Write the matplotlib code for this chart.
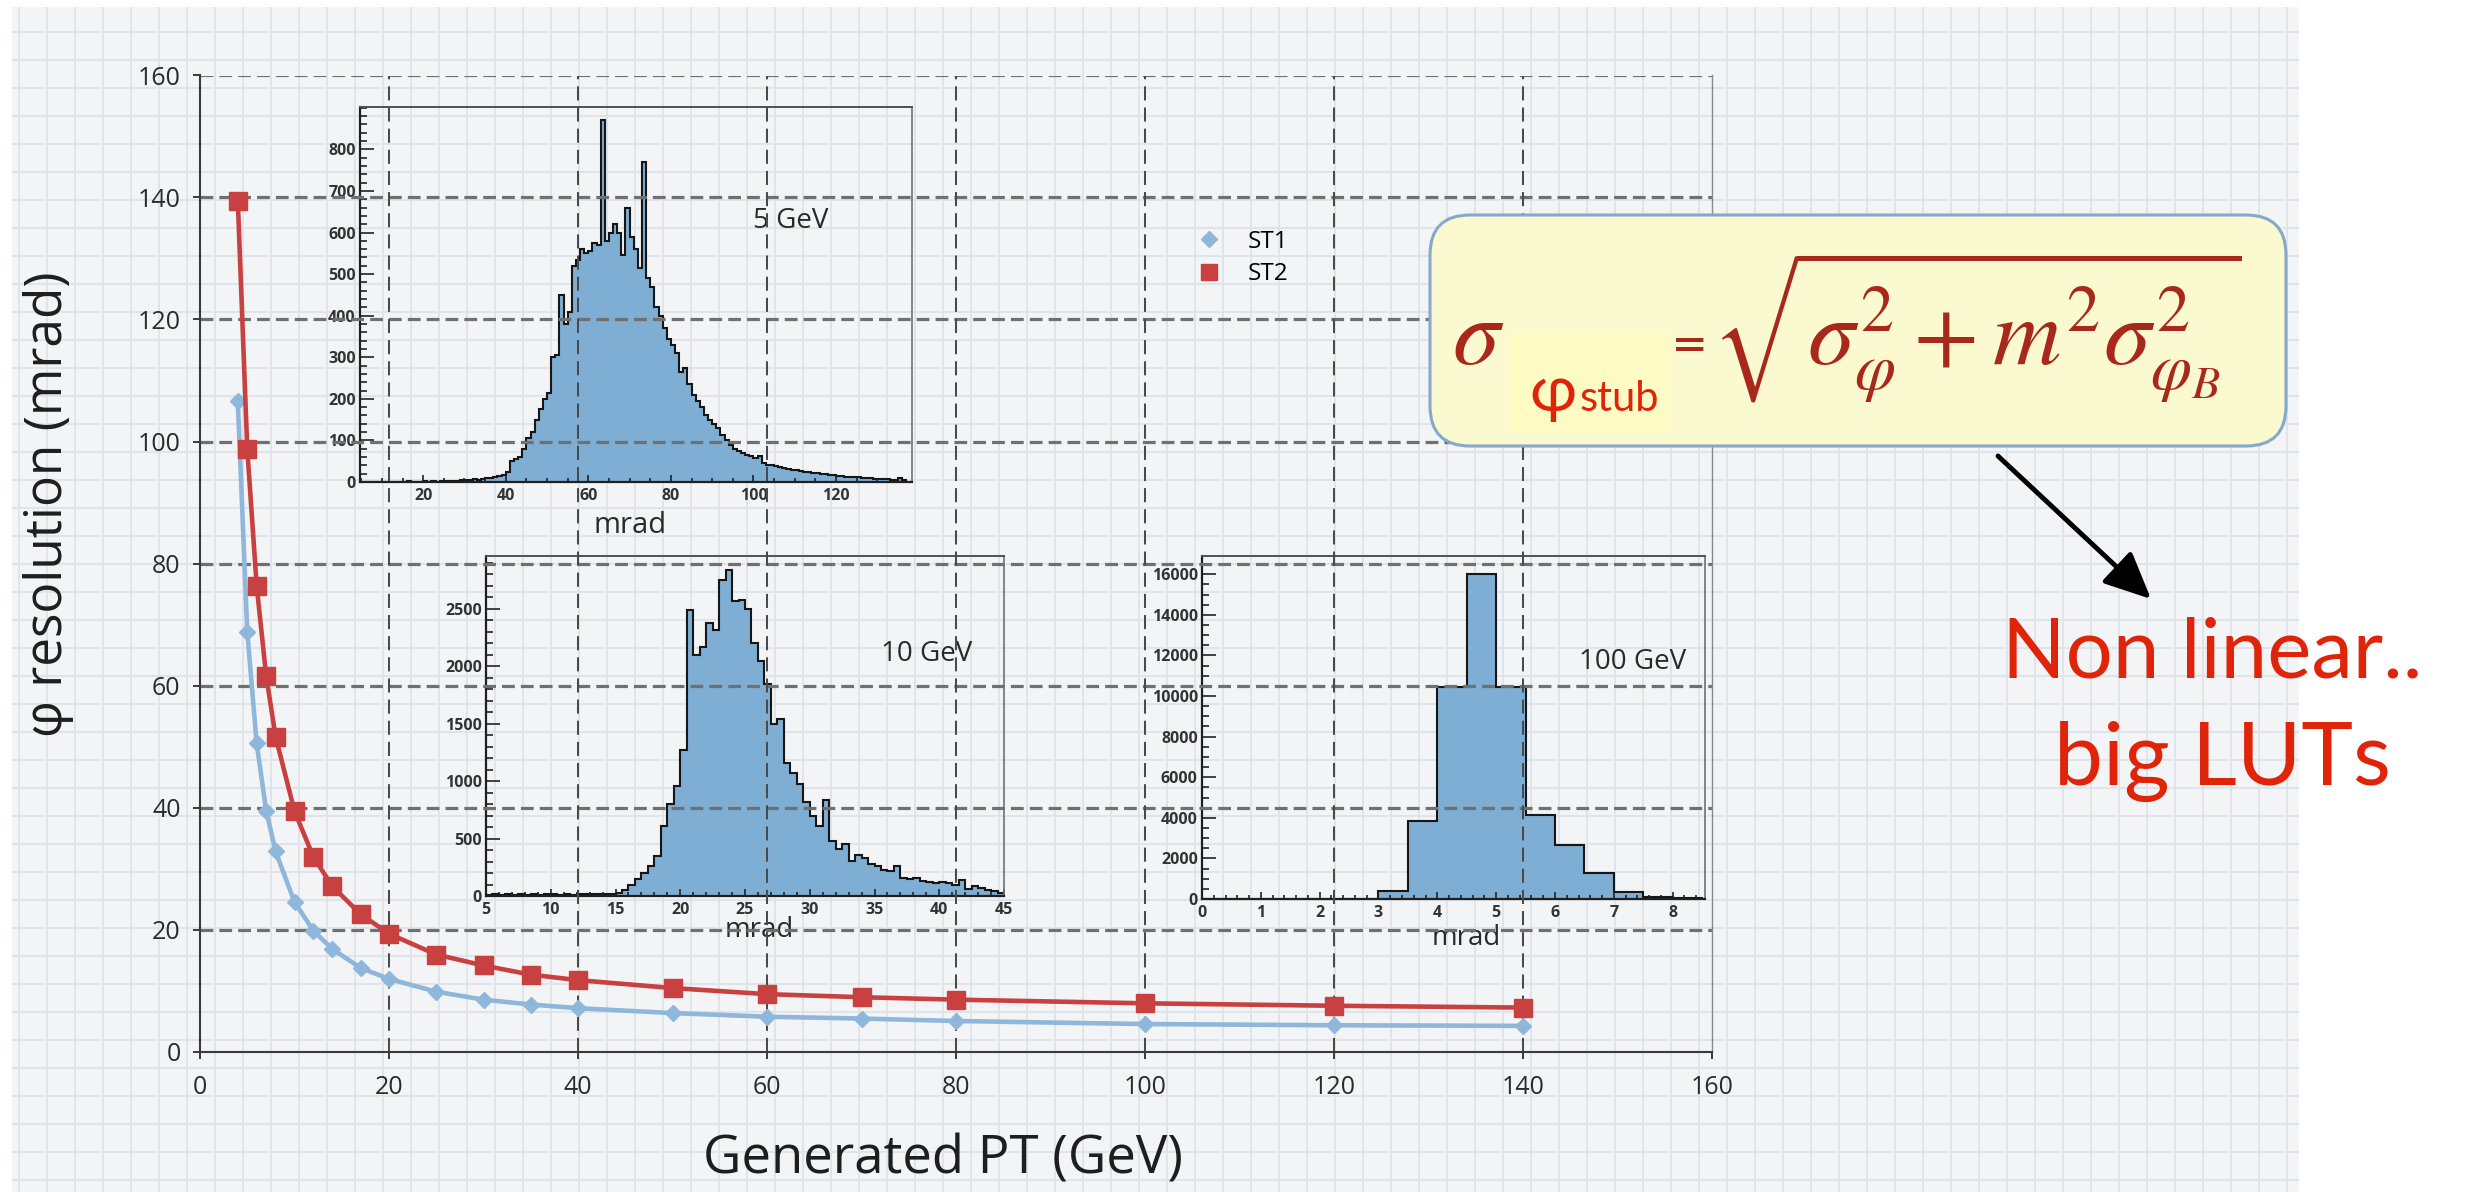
import numpy as np
import matplotlib
matplotlib.use("Agg")
import matplotlib.pyplot as plt
from matplotlib.patches import FancyBboxPatch, Rectangle
from matplotlib.lines import Line2D
from matplotlib.ticker import MultipleLocator

W, H = 2468, 1192
plt.rcParams['font.family'] = ['Open Sans', 'DejaVu Sans']
plt.rcParams['mathtext.fontset'] = 'stix'

# resolution vs generated PT
pt_gev = [4, 5, 6, 7, 8, 10, 12, 14, 17, 20, 25, 30, 35, 40, 50, 60, 70, 80, 100, 120, 140]
st1_res = [106.6, 68.8, 50.5, 39.5, 32.8, 24.5, 19.8, 16.8, 13.7, 11.9, 9.8, 8.5, 7.7, 7.1,
           6.3, 5.7, 5.4, 5.0, 4.5, 4.3, 4.2]
st2_res = [139.5, 98.8, 76.3, 61.6, 51.6, 39.4, 31.9, 27.1, 22.5, 19.3, 15.9, 14.1, 12.6, 11.7,
           10.4, 9.4, 8.9, 8.5, 7.9, 7.5, 7.2]
series_names = ['ST1', 'ST2']
main_ticks = [0, 20, 40, 60, 80, 100, 120, 140, 160]

# 5 GeV inset: 1 mrad bins starting at 5 mrad
h5_start, h5_width = 5, 1.0
h5_counts = [0, 0, 1, 0, 0, 1, 0, 0, 1, 0, 0, 2, 1, 0, 1,
             2, 1, 2, 1, 2, 2, 3, 2, 3, 4,
             5, 6, 7, 6, 8, 9, 10, 12, 14, 18,
             25, 50, 55, 60, 80, 105, 120, 150, 175, 200,
             215, 300, 305, 450, 380, 410, 520, 535, 560, 550,
             555, 575, 570, 870, 580, 600, 620, 600, 545, 660,
             590, 560, 515, 770, 490, 470, 420, 400, 370, 345,
             330, 310, 265, 275, 235, 210, 195, 180, 160, 150,
             140, 130, 112, 100, 88, 80, 75, 70, 66, 62,
             58, 62, 46, 42, 40, 38, 36, 34, 32, 30,
             28, 27, 25, 24, 22, 21, 20, 19, 18, 16,
             15, 14, 13, 12, 12, 11, 10, 10, 9, 8,
             8, 7, 7, 6, 6, 10, 6]

# 10 GeV inset: 0.5 mrad bins starting at 5 mrad
h10_start, h10_width = 5, 0.5
h10_counts = [12, 15, 10, 14, 12, 16, 13, 15, 11, 14, 16, 12, 15, 13, 17, 14, 16, 18, 15, 20,
              25, 50, 100, 150, 200, 260, 350, 610, 800, 960,
              1270, 2490, 2100, 2170, 2380, 2320, 2750, 2840, 2570, 2580,
              2500, 2200, 2050, 1850, 1500, 1545, 1160, 1075, 975, 820,
              700, 610, 840, 475, 405, 455, 305, 360, 330, 280,
              260, 230, 220, 260, 160, 145, 160, 130, 120, 115,
              120, 110, 100, 140, 60, 85, 70, 55, 40, 30]

# 100 GeV inset: 0.5 mrad bins starting at 0
h100_start, h100_width = 0, 0.5
h100_counts = [0, 0, 0, 0, 0, 0, 380, 3850, 10470, 16030, 10470, 4150, 2670, 1300, 360, 100, 50]

RED = '#c8403f'
BLUE = '#8fb6db'
FILL = '#7eaed3'
FORMULA = '#a9281c'
BRIGHT = '#e0240a'


def frac(l, t, r, b):
    return [l / W, 1 - b / H, (r - l) / W, (b - t) / H]


fig = plt.figure(figsize=(W / 100, H / 100), dpi=100)
fig.patch.set_facecolor('white')

# graph paper backdrop of the slide
bg = fig.add_axes([0, 0, 1, 1])
bg.set_xlim(0, W)
bg.set_ylim(H, 0)
bg.axis('off')
bg.set_zorder(0)
bg.add_patch(Rectangle((12, 7), 2287, H - 7, facecolor='#f3f4f5', edgecolor='none'))
bg.vlines(np.arange(19, 2299, 28), 7, H, color='#dce3e9', lw=1.3)
bg.hlines(np.arange(32, H, 28), 12, 2299, color='#dce3e9', lw=1.3)


def hist_inset(rect, counts, start, width, xlim, ylim, xticks, yticks, xminor, yminor,
               tag, tag_xy, mrad_xy, mrad_size):
    iax = fig.add_axes(frac(*rect))
    iax.set_zorder(1)
    iax.patch.set_alpha(0)
    edges = start + width * np.arange(len(counts) + 1)
    iax.stairs(counts, edges, fill=True, color=FILL, lw=0)
    iax.stairs(counts, edges, color='#161616', lw=1.5)
    iax.set_xlim(*xlim)
    iax.set_ylim(*ylim)
    iax.set_xticks(xticks)
    iax.set_yticks(yticks)
    iax.xaxis.set_minor_locator(MultipleLocator(xminor))
    iax.yaxis.set_minor_locator(MultipleLocator(yminor))
    iax.tick_params(which='both', direction='in', color='#222222', width=1.2,
                    labelsize=11.5, labelcolor='#333333')
    iax.tick_params(axis='y', which='major', length=10, pad=3)
    iax.tick_params(axis='y', which='minor', length=5)
    iax.tick_params(axis='x', which='major', length=5, pad=4)
    iax.tick_params(axis='x', which='minor', length=3)
    plt.setp(iax.get_xticklabels() + iax.get_yticklabels(), fontweight='bold')
    for side in ['left', 'bottom']:
        iax.spines[side].set_color('#202020')
        iax.spines[side].set_linewidth(1.6)
    iax.spines['top'].set_color('#505050')
    iax.spines['top'].set_linewidth(1.4)
    iax.spines['right'].set_color('#707070')
    iax.spines['right'].set_linewidth(1.2)
    iax.text(tag_xy[0], tag_xy[1], tag, fontsize=20, ha='center', va='center', color='#2a2a2a')
    iax.text(mrad_xy[0], mrad_xy[1], 'mrad', fontsize=mrad_size, ha='center', va='center',
             color='#2a2a2a', transform=iax.transAxes)
    return iax


hist_inset((360, 107, 912, 482), h5_counts, h5_start, h5_width, (4.7, 138.4), (0, 902),
           [20, 40, 60, 80, 100, 120], list(range(0, 801, 100)), 5, 20,
           '5 GeV', (109, 627), (0.489, -0.117), 21)
hist_inset((486, 556, 1004, 896), h10_counts, h10_start, h10_width, (5, 45), (0, 2960),
           list(range(5, 46, 5)), list(range(0, 2501, 500)), 1, 100,
           '10 GeV', (39, 2110), (0.528, -0.10), 20)
hist_inset((1202, 556, 1705, 899), h100_counts, h100_start, h100_width, (0, 8.55), (0, 16900),
           list(range(0, 9)), list(range(0, 16001, 2000)), 0.2, 500,
           '100 GeV', (7.32, 11700), (0.526, -0.114), 20)

# main chart, drawn above the insets so its dashed grid crosses them
ax = fig.add_axes(frac(200, 75.5, 1712, 1051.5))
ax.set_zorder(2)
ax.patch.set_alpha(0)
ax.set_xlim(0, 160)
ax.set_ylim(0, 160)
for v in main_ticks[1:]:
    ax.axhline(v, color='#707070', lw=2.3, dashes=(4, 1.9), zorder=1)
for v in main_ticks[1:-1]:
    ax.axvline(v, color='#4a4a4a', lw=1.45, dashes=(7, 3.5), zorder=1)

ax.plot(pt_gev, st1_res, color=BLUE, lw=3.3, marker='D', ms=8, zorder=5)
ax.plot(pt_gev, st2_res, color=RED, lw=3.3, marker='s', ms=13, zorder=6)

ax.set_xticks(main_ticks)
ax.set_yticks(main_ticks)
ax.tick_params(direction='out', length=5, width=1.4, color='#3a3a3a', labelsize=18,
               labelcolor='#2b2b2b')
ax.tick_params(axis='x', pad=12)
ax.tick_params(axis='y', pad=9)
ax.spines['top'].set_visible(False)
ax.spines['right'].set_color('#8a8a8a')
ax.spines['right'].set_linewidth(1.0)
for side in ['left', 'bottom']:
    ax.spines[side].set_color('#3a3a3a')
    ax.spines[side].set_linewidth(1.5)

handles = [Line2D([], [], ls='none', marker='D', ms=8, color=BLUE),
           Line2D([], [], ls='none', marker='s', ms=12, color=RED)]
ax.legend(handles, series_names, loc='center left', frameon=False, fontsize=17.5,
          bbox_to_anchor=(1185 / W, 1 - 258 / H), bbox_transform=fig.transFigure,
          borderpad=0, handlelength=1.0, handletextpad=1.1, labelspacing=0.35)

# slide annotations in pixel coordinates
ann = fig.add_axes([0, 0, 1, 1])
ann.set_xlim(0, W)
ann.set_ylim(H, 0)
ann.axis('off')
ann.set_zorder(3)

ann.text(943, 1174, 'Generated PT (GeV)', fontsize=38, ha='center', va='baseline', color='#1e1e1e')
ann.text(49, 504, 'φ resolution (mrad)', fontsize=37, rotation=90, ha='center', va='center',
         color='#1e1e1e')

ann.add_patch(FancyBboxPatch((1430, 215), 856, 231, boxstyle='round,pad=0,rounding_size=40',
                             facecolor='#fbf9cf', edgecolor='#86a9cb', lw=2.2))
ann.text(1452, 364, r'$\sigma$', fontsize=68, color=FORMULA, ha='left', va='baseline')
ann.text(1685, 343, r'$\mathbf{=}$', fontsize=32, color=FORMULA, ha='center', va='center')
ann.text(1712, 364, r'$\sqrt{\sigma_{\varphi}^{2}+m^{2}\sigma_{\varphi_B}^{2}}$', fontsize=68,
         color=FORMULA, ha='left', va='baseline')
ann.add_patch(Rectangle((1510, 333), 160, 98, facecolor='#fefbc4', edgecolor='none'))
ann.text(1529, 411, 'φ', fontsize=46, color=BRIGHT, ha='left', va='baseline',
         family=['Lato', 'DejaVu Sans'])
ann.text(1580, 411, 'stub', fontsize=30, color=BRIGHT, ha='left', va='baseline',
         family=['Lato', 'DejaVu Sans'])

ann.annotate('', xy=(2151, 599), xytext=(1998, 456),
             arrowprops=dict(arrowstyle='-|>,head_length=1.3,head_width=0.6', lw=3.5,
                             color='black', mutation_scale=22, shrinkA=0, shrinkB=0))
ann.text(2212, 677, 'Non linear..', fontsize=60, color=BRIGHT, ha='center', va='baseline',
         family=['Lato', 'DejaVu Sans'])
ann.text(2222, 785, 'big LUTs', fontsize=63, color=BRIGHT, ha='center', va='baseline',
         family=['Lato', 'DejaVu Sans'])

fig.savefig('out.png', dpi=100, facecolor=fig.get_facecolor())
